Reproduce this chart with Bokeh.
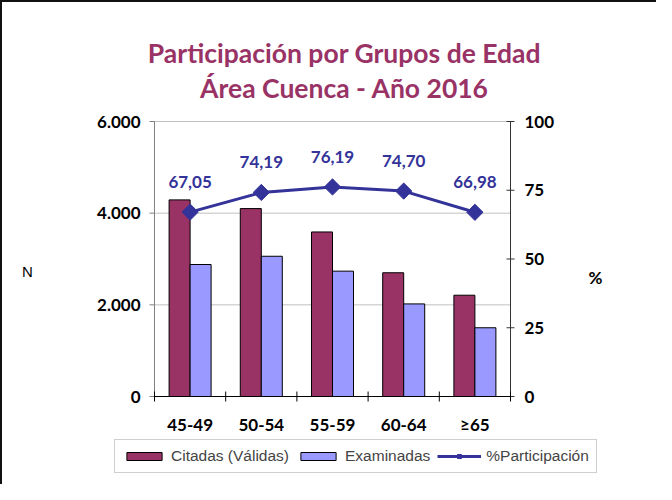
import math
from bokeh.plotting import figure
from bokeh.models import ColumnDataSource, Range1d, Legend, LegendItem
from bokeh.core.properties import value
from bokeh.embed import file_html
from bokeh.resources import INLINE

# ---- data ----
categorias = ["45-49", "50-54", "55-59", "60-64", "≥65"]
citadas = [4290, 4100, 3590, 2700, 2210]
examinadas = [2880, 3060, 2735, 2020, 1500]
participacion = [67.05, 74.19, 76.19, 74.70, 66.98]
etiquetas_part = ["67,05", "74,19", "76,19", "74,70", "66,98"]
ticks_n = [0, 2000, 4000, 6000]
etiquetas_n = ["0", "2.000", "4.000", "6.000"]
ticks_pct = [0, 25, 50, 75, 100]
etiquetas_pct = ["0", "25", "50", "75", "100"]
titulo_1 = "Participación por Grupos de Edad"
titulo_2 = "Área Cuenca - Año 2016"
series = ["Citadas (Válidas)", "Examinadas", "%Participación"]
eje_izq = "N"
eje_der = "%"

# ---- style / layout constants ----
C_CIT = "#993366"
C_EXA = "#9999ff"
C_PAR = "#333399"
FONT = "Lato"
CW, CH = 656, 484           # canvas size
PL, PT, PW, PH = 152, 119, 356, 275   # plot box inside the canvas (px)

n = len(categorias)
ymax = ticks_n[-1]
pmax = ticks_pct[-1]
xpp = n / PW                # x units per pixel
ypp = ymax / PH             # y units per pixel
ppp = pmax / PH             # pct units per pixel

xs = [i + 0.5 for i in range(n)]
bw = 0.295

src = ColumnDataSource(dict(
    x=xs,
    xc=[x - bw / 2 for x in xs],
    xe=[x + bw / 2 for x in xs],
    citadas=citadas,
    examinadas=examinadas,
    part=participacion,
    lab=etiquetas_part,
    cat=categorias,
    zero=[0] * n,
))

p = figure(width=CW, height=CH,
           x_range=Range1d(-PL * xpp, (CW - PL) * xpp),
           y_range=Range1d(-(CH - PT - PH) * ypp, ymax + PT * ypp),
           output_backend="svg", toolbar_location=None, title_location=None,
           x_axis_location=None, y_axis_location=None, min_border=0)
p.extra_y_ranges = {"pct": Range1d(-(CH - PT - PH) * ppp, pmax + PT * ppp)}
p.styles = {"border-left": "2px solid #111", "border-top": "2px solid #111"}
p.outline_line_color = None
p.background_fill_color = "white"
p.border_fill_color = "white"
p.xgrid.grid_line_color = None
p.ygrid.grid_line_color = None

bold = dict(text_font=value(FONT), text_font_style="bold", text_color="#000")

# grid lines (left scale)
gsrc = ColumnDataSource(dict(y=ticks_n, lab=etiquetas_n, x0=[0] * len(ticks_n),
                             x1=[n] * len(ticks_n)))
p.segment(x0="x0", x1="x1", y0="y", y1="y", source=gsrc, line_color="#c0c0c0", line_width=1)

# bars
r1 = p.vbar(x="xc", top="citadas", width=bw, bottom=0, source=src,
            fill_color=C_CIT, line_color="#000", line_width=1)
r2 = p.vbar(x="xe", top="examinadas", width=bw, bottom=0, source=src,
            fill_color=C_EXA, line_color="#000", line_width=1)

# left axis
p.segment(x0=[0], x1=[0], y0=[0], y1=[ymax], line_color="#808080", line_width=1)
p.segment(x0=-5 * xpp, x1=0, y0="y", y1="y", source=gsrc, line_color="#808080", line_width=1)
p.text(x=0, y="y", text="lab", source=gsrc, x_offset=-14, text_align="right",
       text_baseline="middle", text_font_size="17px", **bold)
p.text(x=[0], y=[ymax / 2], text=[eje_izq], x_offset=-127, y_offset=12,
       text_align="center", text_baseline="middle", text_font=value("Liberation Sans"),
       text_font_size="15px", text_color="#000")

# right axis
psrc = ColumnDataSource(dict(y=ticks_pct, lab=etiquetas_pct))
p.segment(x0=[n], x1=[n], y0=[0], y1=[pmax], y_range_name="pct", line_color="#333", line_width=1)
p.segment(x0=n - 4 * xpp, x1=n + 4 * xpp, y0="y", y1="y", source=psrc, y_range_name="pct",
          line_color="#333", line_width=1)
p.text(x=n, y="y", text="lab", source=psrc, y_range_name="pct", x_offset=14,
       text_align="left", text_baseline="middle", text_font_size="17px", **bold)
p.text(x=[n], y=[pmax / 2], text=[eje_der], y_range_name="pct", x_offset=85, y_offset=18,
       text_align="center", text_baseline="middle", text_font_size="17px", **bold)

# x axis
p.segment(x0=[0], x1=[n], y0=[0], y1=[0], line_color="#000", line_width=1)
bsrc = ColumnDataSource(dict(x=list(range(n + 1))))
p.segment(x0="x", x1="x", y0=-5 * ypp, y1=5 * ypp, source=bsrc, line_color="#000", line_width=1)
p.text(x="x", y="zero", text="cat", source=src, y_offset=28, text_align="center",
       text_baseline="middle", text_font_size="17px", **bold)

# participation line
r3 = p.line(x="x", y="part", source=src, y_range_name="pct", line_color=C_PAR, line_width=3)
r4 = p.scatter(x="x", y="part", source=src, y_range_name="pct", marker="square",
               angle=math.pi / 4, size=11.5, fill_color=C_PAR, line_color=C_PAR)
p.text(x="x", y="part", text="lab", source=src, y_range_name="pct", y_offset=-30,
       text_align="center", text_baseline="middle", text_font=value(FONT),
       text_font_style="bold", text_font_size="17px", text_color=C_PAR)

# titles
p.text(x=[n / 2, n / 2], y=[ymax, ymax], text=[titulo_1, titulo_2], x_offset=12,
       y_offset=[-69, -34], text_align="center", text_baseline="middle",
       text_font=value(FONT), text_font_style="bold", text_font_size="26.5px",
       text_color=C_CIT)

# legend
legend = Legend(items=[LegendItem(label=series[0], renderers=[r1]),
                       LegendItem(label=series[1], renderers=[r2]),
                       LegendItem(label=series[2], renderers=[r3, r4])],
                orientation="horizontal", location=(112, 13),
                glyph_width=44, glyph_height=10, label_text_font="Liberation Sans",
                label_text_font_size="15.5px", label_standoff=5, spacing=7, padding=7,
                margin=0, border_line_color="#a0a0a0", border_line_width=1,
                background_fill_color="white", background_fill_alpha=1.0,
                label_height=18)
p.add_layout(legend, "center")

open("out.html", "w").write(file_html(p, INLINE))
